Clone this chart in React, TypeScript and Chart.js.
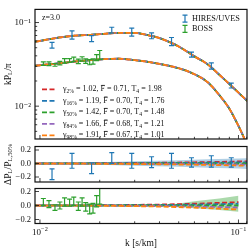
import React, { useEffect, useRef } from 'react';
import { Chart, registerables } from 'chart.js';
Chart.register(...registerables);

const W = 249;
const H = 250;
const FONT = '"Liberation Serif", "DejaVu Serif", serif';

// ---------- data ----------
const X_MIN = 0.00944;
const X_MAX = 0.1104;
const xTicks = [0.01, 0.02, 0.03, 0.04, 0.05, 0.06, 0.07, 0.08, 0.09, 0.1, 0.11];
const xMajor = [0.01, 0.1];
const xMajorLabels = ['\u22122', '\u22121'];

const Y_MIN = 0.00405;
const Y_MAX = 0.1436;
const yTicksMain = [0.005, 0.006, 0.007, 0.008, 0.009, 0.01, 0.02, 0.03, 0.04, 0.05, 0.06, 0.07, 0.08, 0.09, 0.1];
const yMajorMain = [0.01, 0.1];
const yTicksRes = [-0.2, 0, 0.2];

// model curves (main panel)
const kModel = [0.0094, 0.011, 0.013, 0.015, 0.018, 0.021, 0.025, 0.03, 0.035, 0.04, 0.05, 0.06, 0.07, 0.08, 0.09, 0.1, 0.111];
const pModelHires = [0.0588, 0.0628, 0.067, 0.0696, 0.0714, 0.0733, 0.0752, 0.0752, 0.0705, 0.0652, 0.0517, 0.0394, 0.0316, 0.0238, 0.0184, 0.0145, 0.0115];
const pModelBoss = [0.0304, 0.0316, 0.0329, 0.0342, 0.0355, 0.0365, 0.0369, 0.0355, 0.0339, 0.032, 0.0284, 0.0241, 0.0193, 0.0136, 0.0093, 0.0058, 0.0034];

// HIRES/UVES data
const kHires = [0.0115, 0.0145, 0.0182, 0.023, 0.029, 0.0365, 0.046, 0.058, 0.073, 0.092];
const pHires = [0.0537, 0.0714, 0.0644, 0.0813, 0.0773, 0.0696, 0.0596, 0.0415, 0.0304, 0.0177];
const eHires = [0.0043, 0.0079, 0.0052, 0.0065, 0.0085, 0.0056, 0.0066, 0.0029, 0.0026, 0.0012];
const rHires = [-0.16, 0.04, -0.07, 0.08, 0.04, 0.02, 0.04, 0.015, 0.03, 0.015];
const reHires = [0.08, 0.11, 0.08, 0.08, 0.11, 0.08, 0.11, 0.07, 0.085, 0.07];

// BOSS data
const kBoss = [0.0104, 0.0111, 0.0119, 0.0126, 0.0133, 0.0141, 0.0148, 0.0156, 0.0163, 0.017, 0.0178, 0.0185, 0.0193, 0.02];
const pBoss = [0.0323, 0.0322, 0.0312, 0.0327, 0.0349, 0.0352, 0.0364, 0.0344, 0.0368, 0.0346, 0.0337, 0.0343, 0.0382, 0.0413];
const eBoss = [0.0016, 0.0016, 0.0012, 0.0016, 0.0021, 0.0018, 0.0022, 0.0021, 0.0022, 0.0021, 0.0024, 0.0024, 0.0031, 0.005];
const rBoss = [0.05, 0.02, -0.03, 0.0, 0.05, 0.04, 0.06, -0.01, 0.05, -0.02, -0.05, -0.04, 0.06, 0.14];
const reBoss = [0.05, 0.05, 0.04, 0.05, 0.06, 0.05, 0.06, 0.06, 0.06, 0.06, 0.07, 0.07, 0.08, 0.12];

// model ratios (residual panels)
const kRatioH = [0.0094, 0.02, 0.04, 0.06, 0.08, 0.1, 0.111];
const ratioH2 = [0, 0.004, 0.011, 0.018, 0.024, 0.03, 0.033];
const ratioH16 = [0, 0.002, 0.006, 0.01, 0.013, 0.016, 0.018];
const ratioH50 = [0, 0, 0, 0, 0, 0, 0];
const ratioH84 = [0, -0.002, -0.005, -0.009, -0.012, -0.015, -0.017];
const ratioH98 = [0, -0.004, -0.011, -0.018, -0.024, -0.03, -0.033];

const kRatioB = [0.0094, 0.02, 0.04, 0.06, 0.08, 0.1];
const ratioB2 = [0, 0.004, 0.014, 0.026, 0.038, 0.048];
const ratioB16 = [0, 0.002, 0.007, 0.013, 0.019, 0.025];
const ratioB50 = [0, 0, 0, 0, 0, 0];
const ratioB84 = [0, -0.002, -0.008, -0.015, -0.022, -0.03];
const ratioB98 = [0, -0.004, -0.015, -0.03, -0.045, -0.058];

// shaded bands
const kBandH = [0.0094, 0.015, 0.02, 0.03, 0.05, 0.07, 0.1, 0.111];
const bandHUp = [0.008, 0.013, 0.02, 0.032, 0.048, 0.062, 0.075, 0.08];
const bandHLo = [-0.008, -0.013, -0.02, -0.032, -0.048, -0.062, -0.075, -0.08];
const kBandB = [0.045, 0.06, 0.08, 0.1];
const bandBUp = [0.01, 0.06, 0.1, 0.14];
const bandBLo = [-0.01, -0.04, -0.065, -0.09];

// legend
const gammaPct = ['2%', '16%', '50%', '84%', '98%'];
const gammaVals = ['1.02', '1.19', '1.42', '1.66', '1.91'];
const fbarVals = ['0.71', '0.70', '0.70', '0.68', '0.67'];
const t4Vals = ['1.98', '1.76', '1.48', '1.21', '1.01'];
const modelColors = ['#d62728', '#1f77b4', '#2ca02c', '#9467bd', '#ff7f0e'];
const BLUE = '#1f77b4';
const GREEN = '#2ca02c';

// ---------- helpers ----------
const pts = (xs: number[], ys: number[]) => xs.map((x, i) => ({ x, y: ys[i] }));
const DASH = [5, 2.5];

function modelDatasets(xs: number[], series: number[][], lw: number) {
  return series.map((ys, i) => ({
    data: pts(xs, ys),
    showLine: true,
    borderColor: modelColors[i],
    backgroundColor: modelColors[i],
    borderWidth: lw,
    borderDash: DASH,
    borderDashOffset: i * 1.5,
    pointRadius: 0,
    cubicInterpolationMode: 'monotone',
    order: 6 - i,
  }));
}

function xScale() {
  return {
    type: 'logarithmic',
    min: X_MIN,
    max: X_MAX,
    afterFit: (s: any) => { s.height = 0; },
    afterBuildTicks: (s: any) => {
      s.ticks = xTicks.filter(v => v >= X_MIN && v <= X_MAX).map(v => ({ value: v, major: xMajor.includes(v) }));
    },
    grid: { display: false, drawTicks: false },
    border: { display: false },
    ticks: { display: false, autoSkip: false },
  };
}

function resYScale(min: number, max: number) {
  return {
    type: 'linear',
    min,
    max,
    afterFit: (s: any) => { s.width = 35; },
    afterBuildTicks: (s: any) => { s.ticks = yTicksRes.map(v => ({ value: v, major: true })); },
    grid: { display: false, drawTicks: false },
    border: { display: false },
    ticks: {
      autoSkip: false,
      padding: 4,
      color: '#111',
      font: { family: FONT, size: 8.5 },
      callback: (v: number) => (Math.abs(v) < 1e-9 ? '0.0' : v > 0 ? v.toFixed(1) : '\u2212' + Math.abs(v).toFixed(1)),
    },
  };
}

const frameTicks = {
  id: 'frameTicks',
  afterDraw(chart: any) {
    const { ctx, chartArea: a } = chart;
    const xs = chart.scales.x;
    const ys = chart.scales.y;
    ctx.save();
    ctx.strokeStyle = '#111';
    ctx.lineWidth = 0.8;
    xs.ticks.forEach((t: any) => {
      const px = xs.getPixelForValue(t.value);
      if (px < a.left || px > a.right) return;
      const len = t.major ? 4 : 2.2;
      ctx.beginPath();
      ctx.moveTo(px, a.bottom);
      ctx.lineTo(px, a.bottom - len);
      ctx.stroke();
    });
    ys.ticks.forEach((t: any) => {
      const py = ys.getPixelForValue(t.value);
      if (py < a.top || py > a.bottom) return;
      const len = t.major ? 4 : 2.2;
      ctx.beginPath();
      ctx.moveTo(a.left, py);
      ctx.lineTo(a.left + len, py);
      ctx.stroke();
    });
    ctx.lineWidth = 1.2;
    ctx.strokeStyle = '#111';
    ctx.strokeRect(a.left, a.top, a.right - a.left, a.bottom - a.top);
    ctx.restore();
  },
};

const errorBars = {
  id: 'errorBars',
  afterDatasetsDraw(chart: any) {
    const { ctx, chartArea: a } = chart;
    const xs = chart.scales.x;
    const ys = chart.scales.y;
    ctx.save();
    ctx.beginPath();
    ctx.rect(a.left, a.top, a.right - a.left, a.bottom - a.top);
    ctx.clip();
    chart.data.datasets.forEach((ds: any) => {
      if (!ds.errors) return;
      ctx.strokeStyle = ds.borderColor;
      ctx.lineWidth = 1.2;
      const cap = 2.5;
      ds.data.forEach((p: any, j: number) => {
        const x = xs.getPixelForValue(p.x);
        const y1 = ys.getPixelForValue(p.y - ds.errors[j]);
        const y2 = ys.getPixelForValue(p.y + ds.errors[j]);
        ctx.beginPath();
        ctx.moveTo(x, y1);
        ctx.lineTo(x, y2);
        ctx.moveTo(x - cap, y1);
        ctx.lineTo(x + cap, y1);
        ctx.moveTo(x - cap, y2);
        ctx.lineTo(x + cap, y2);
        ctx.stroke();
      });
    });
    ctx.restore();
  },
};

type Part = { t: string; sub?: boolean; sup?: boolean; bar?: boolean };
function partSize(p: Part, size: number) {
  return p.sub || p.sup ? size * 0.7 : size;
}
function drawParts(ctx: CanvasRenderingContext2D, x: number, y: number, parts: Part[], size: number) {
  let cx = x;
  parts.forEach(p => {
    const s = partSize(p, size);
    ctx.font = `${s}px ${FONT}`;
    const dy = p.sub ? size * 0.28 : p.sup ? -size * 0.38 : 0;
    ctx.fillText(p.t, cx, y + dy);
    const w = ctx.measureText(p.t).width;
    if (p.bar) {
      ctx.save();
      ctx.lineWidth = 0.7;
      ctx.strokeStyle = ctx.fillStyle as string;
      ctx.beginPath();
      ctx.moveTo(cx + w * 0.2, y - size * 0.5);
      ctx.lineTo(cx + w * 0.95, y - size * 0.5);
      ctx.stroke();
      ctx.restore();
    }
    cx += w;
  });
  return cx - x;
}
function measureParts(ctx: CanvasRenderingContext2D, parts: Part[], size: number) {
  let w = 0;
  parts.forEach(p => {
    ctx.font = `${partSize(p, size)}px ${FONT}`;
    w += ctx.measureText(p.t).width;
  });
  return w;
}
function drawRotated(ctx: CanvasRenderingContext2D, cx: number, cy: number, parts: Part[], size: number) {
  ctx.save();
  ctx.translate(cx, cy);
  ctx.rotate(-Math.PI / 2);
  const w = measureParts(ctx, parts, size);
  ctx.textBaseline = 'middle';
  ctx.textAlign = 'left';
  drawParts(ctx, -w / 2, 0, parts, size);
  ctx.restore();
}

const mainDecor = {
  id: 'mainDecor',
  afterDraw(chart: any) {
    const { ctx, chartArea: a } = chart;
    ctx.save();
    ctx.fillStyle = '#111';
    ctx.textBaseline = 'middle';
    ctx.textAlign = 'left';
    drawParts(ctx, a.left + 7, a.top + 9, [{ t: 'z=3.0' }], 8);
    const lx = 185;
    [[BLUE, 'HIRES/UVES', a.top + 9.3], [GREEN, 'BOSS', a.top + 19.5]].forEach(([c, label, y]: any) => {
      ctx.strokeStyle = c;
      ctx.lineWidth = 1.2;
      ctx.beginPath();
      ctx.moveTo(lx, y - 3.5); ctx.lineTo(lx, y + 3.5);
      ctx.moveTo(lx - 2.5, y - 3.5); ctx.lineTo(lx + 2.5, y - 3.5);
      ctx.moveTo(lx - 2.5, y + 3.5); ctx.lineTo(lx + 2.5, y + 3.5);
      ctx.stroke();
      ctx.fillStyle = '#111';
      drawParts(ctx, lx + 7, y, [{ t: label }], 8.3);
    });
    gammaPct.forEach((pct, i) => {
      const y = a.top + 80 + i * 11.5;
      ctx.strokeStyle = modelColors[i];
      ctx.lineWidth = 1.8;
      ctx.setLineDash(DASH);
      ctx.beginPath();
      ctx.moveTo(a.left + 7, y);
      ctx.lineTo(a.left + 22, y);
      ctx.stroke();
      ctx.setLineDash([]);
      ctx.fillStyle = '#111';
      drawParts(ctx, a.left + 28, y, [
        { t: '\u03B3' }, { t: pct, sub: true }, { t: ' = ' + gammaVals[i] + ', ' },
        { t: 'F', bar: true }, { t: ' = ' + fbarVals[i] + ', T' }, { t: '4', sub: true },
        { t: ' = ' + t4Vals[i] },
      ], 8);
    });
    drawRotated(ctx, 8, (a.top + a.bottom) / 2, [{ t: 'kP' }, { t: 'L', sub: true }, { t: '/\u03C0' }], 9.5);
    ctx.restore();
  },
};

const hiresDecor = {
  id: 'hiresDecor',
  afterDraw(chart: any) {
    const { ctx, chartArea: a } = chart;
    ctx.save();
    ctx.fillStyle = '#111';
    drawRotated(ctx, 8, (a.top + a.bottom) / 2, [
      { t: '\u0394P' }, { t: 'L', sub: true }, { t: '/P' }, { t: 'L,50%', sub: true },
    ], 9.5);
    ctx.restore();
  },
};

const bossDecor = {
  id: 'bossDecor',
  afterDraw(chart: any) {
    const { ctx, chartArea: a } = chart;
    const xs = chart.scales.x;
    ctx.save();
    ctx.fillStyle = '#111';
    ctx.textBaseline = 'middle';
    ctx.textAlign = 'left';
    xMajor.forEach((v, i) => {
      const parts: Part[] = [{ t: '10' }, { t: xMajorLabels[i], sup: true }];
      const w = measureParts(ctx, parts, 9);
      drawParts(ctx, xs.getPixelForValue(v) - w / 2, a.bottom + 9.5, parts, 9);
    });
    ctx.textAlign = 'center';
    ctx.font = `9.5px ${FONT}`;
    ctx.fillText('k [s/km]', (a.left + a.right) / 2, 243);
    ctx.restore();
  },
};

function baseOptions(padding: any) {
  return {
    responsive: false,
    animation: false,
    devicePixelRatio: 1,
    layout: { padding },
    plugins: { legend: { display: false }, tooltip: { enabled: false }, title: { display: false } },
    events: [],
  };
}

function cfgMain(): any {
  return {
    type: 'scatter',
    data: {
      datasets: [
        ...modelDatasets(kModel, [pModelHires, pModelHires, pModelHires, pModelHires, pModelHires], 1.8),
        ...modelDatasets(kModel, [pModelBoss, pModelBoss, pModelBoss, pModelBoss, pModelBoss], 1.8),
        { data: pts(kHires, pHires), errors: eHires, borderColor: BLUE, backgroundColor: BLUE, pointRadius: 0, showLine: false, order: 0 },
        { data: pts(kBoss, pBoss), errors: eBoss, borderColor: GREEN, backgroundColor: GREEN, pointRadius: 0, showLine: false, order: 0 },
      ],
    },
    options: {
      ...baseOptions({ top: 1, bottom: H - 139, left: 0, right: 2 }),
      scales: {
        x: xScale(),
        y: {
          type: 'logarithmic',
          min: Y_MIN,
          max: Y_MAX,
          afterFit: (s: any) => { s.width = 35; },
          afterBuildTicks: (s: any) => { s.ticks = yTicksMain.map(v => ({ value: v, major: yMajorMain.includes(v) })); },
          grid: { display: false, drawTicks: false },
          border: { display: false },
          ticks: {
            autoSkip: false,
            padding: 4,
            color: '#111',
            font: { family: FONT, size: 9 },
            callback: (v: number) => (v === 0.1 ? '10\u207B\u00B9' : v === 0.01 ? '10\u207B\u00B2' : ''),
          },
        },
      },
    },
    plugins: [frameTicks, errorBars, mainDecor],
  };
}

function bandDatasets(xs: number[], up: number[], lo: number[], color: string) {
  return [
    { data: pts(xs, up), showLine: true, borderWidth: 0, pointRadius: 0, fill: '+1', backgroundColor: color, borderColor: 'transparent', order: 20 },
    { data: pts(xs, lo), showLine: true, borderWidth: 0, pointRadius: 0, fill: false, backgroundColor: color, borderColor: 'transparent', order: 21 },
  ];
}

function cfgHires(): any {
  return {
    type: 'scatter',
    data: {
      datasets: [
        ...bandDatasets(kBandH, bandHUp, bandHLo, 'rgba(31,119,180,0.35)'),
        ...modelDatasets(kRatioH, [ratioH2, ratioH16, ratioH50, ratioH84, ratioH98], 1.8),
        { data: pts(kHires, rHires), errors: reHires, borderColor: BLUE, backgroundColor: BLUE, pointRadius: 0, showLine: false, order: 0 },
      ],
    },
    options: {
      ...baseOptions({ top: 146.5, bottom: H - 182, left: 0, right: 2 }),
      scales: { x: xScale(), y: resYScale(-0.274, 0.252) },
    },
    plugins: [frameTicks, errorBars, hiresDecor],
  };
}

function cfgBoss(): any {
  return {
    type: 'scatter',
    data: {
      datasets: [
        ...bandDatasets(kBandB, bandBUp, bandBLo, 'rgba(44,160,44,0.4)'),
        ...modelDatasets(kRatioB, [ratioB2, ratioB16, ratioB50, ratioB84, ratioB98], 1.8),
        { data: pts(kBoss, rBoss), errors: reBoss, borderColor: GREEN, backgroundColor: GREEN, pointRadius: 0, showLine: false, order: 0 },
      ],
    },
    options: {
      ...baseOptions({ top: 188.5, bottom: H - 223.5, left: 0, right: 2 }),
      scales: { x: xScale(), y: resYScale(-0.257, 0.243) },
    },
    plugins: [frameTicks, errorBars, bossDecor],
  };
}

export default function App() {
  const r1 = useRef<HTMLCanvasElement>(null);
  const r2 = useRef<HTMLCanvasElement>(null);
  const r3 = useRef<HTMLCanvasElement>(null);
  useEffect(() => {
    Chart.defaults.font.family = FONT;
    const c1 = new Chart(r1.current!, cfgMain());
    const c2 = new Chart(r2.current!, cfgHires());
    const c3 = new Chart(r3.current!, cfgBoss());
    return () => { c1.destroy(); c2.destroy(); c3.destroy(); };
  }, []);
  const st: React.CSSProperties = { position: 'absolute', left: 0, top: 0, width: W, height: H };
  return (
    <div style={{ position: 'absolute', left: 0, top: 0, width: W, height: H, background: '#fff', overflow: 'hidden' }}>
      <canvas ref={r1} width={W} height={H} style={st} />
      <canvas ref={r2} width={W} height={H} style={st} />
      <canvas ref={r3} width={W} height={H} style={st} />
    </div>
  );
}
